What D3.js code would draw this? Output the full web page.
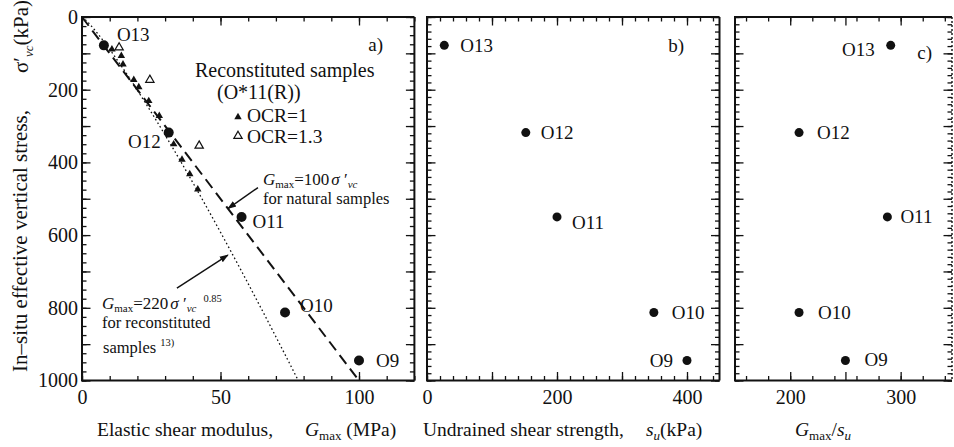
<!DOCTYPE html>
<html>
<head>
<meta charset="utf-8">
<script src="https://cdn.jsdelivr.net/npm/d3@7"></script>
</head>
<body style="margin:0;background:#fff">
<svg id="fig" width="954" height="447" style="display:block"></svg>
<script>
// ---- data ----------------------------------------------------------------
const samples      = ["O13", "O12", "O11", "O10", "O9"];
const sigmaVc      = [78, 318, 550, 813, 945];        // in-situ σ'vc (kPa)
const gmaxNatural  = [7.9, 31.3, 57.6, 73.3, 100];    // Gmax (MPa)
const suValues     = [26.6, 152, 200, 349, 400];      // su (kPa)
const gmaxOverSu   = [291, 208, 288, 208, 250];       // Gmax / su

// reconstituted samples O*11(R)
const ocr1Gmax   = [10.8, 14.2, 14.8, 18.7, 20.5, 24.1, 27.9, 33.1, 36.1, 38.9, 41.8];
const ocr1Sigma  = [89, 107, 130, 173, 193, 231, 272, 350, 392, 432, 474];
const ocr13Gmax  = [13.4, 24.5, 42.3];
const ocr13Sigma = [84, 173, 354];

// stated relationships: Gmax = 100 σ'vc ; Gmax = 220 σ'vc^0.85 (kPa)
const naturalCoef = 100;
const reconCoef = 220, reconExp = 0.85;

// tick labels
const yTickLabels = [0, 200, 400, 600, 800, 1000];
const xTicksA = [0, 50, 100];
const xTicksB = [0, 200, 400];
const xTicksC = [200, 300];

// ---- layout ----------------------------------------------------------------
const svg = d3.select("#fig");
const INK = "#111";
const FONT = "Liberation Serif";

const y  = d3.scaleLinear().domain([0, 1000]).range([17, 380.5]);
const xA = d3.scaleLinear().domain([0, 120]).range([82, 414.4]);
const xB = d3.scaleLinear().domain([0, 450]).range([427, 719.5]);
const xC = d3.scaleLinear().domain([150, 346.5]).range([735, 952]);

// every text node gets the serif face directly
function face(sel) { return sel.style("font-family", `"${FONT}"`).attr("fill", INK); }

// rich text helper: parts = [{t, it, sub, sup, fs, dx}]
function richText(g, x, y0, parts, size, opts = {}) {
  const t = face(g.append("text").attr("x", x).attr("y", y0).style("font-size", size + "px"));
  if (opts.anchor) t.attr("text-anchor", opts.anchor);
  if (opts.transform) t.attr("transform", opts.transform);
  let shift = 0;
  parts.forEach(p => {
    const s = p.sub ? size * (opts.subShift || 0.22) : p.sup ? -size * 0.4 : 0;
    const ts = face(t.append("tspan").attr("dy", s - shift).text(p.t));
    shift = s;
    if (p.it) ts.style("font-style", "italic");
    if (p.sub || p.sup) ts.style("font-size", (p.fs || size * 0.68) + "px");
    if (p.dx) ts.attr("dx", p.dx);
  });
  return t;
}
function plain(g, x, y0, str, size, anchor) {
  return face(g.append("text").attr("x", x).attr("y", y0).attr("text-anchor", anchor || "start")
    .style("font-size", size + "px").text(str));
}

// ticks on all four sides, all pointing inward
function panelAxes(x, yS, o) {
  const g = svg.append("g");
  const [x0, x1] = x.range(), [y0, y1] = yS.range();
  const put = (axisFn, scale, vals, size, tx, ty, fmt, pad) => {
    const a = axisFn(scale).tickValues(vals).tickSizeInner(size).tickSizeOuter(0)
      .tickPadding(pad || 3).tickFormat(fmt || (() => ""));
    const gg = g.append("g").attr("transform", `translate(${tx},${ty})`).call(a);
    gg.attr("font-size", 20).attr("font-family", FONT);
    gg.select(".domain").remove();
    gg.selectAll("line").attr("stroke", INK).attr("stroke-width", 1.3);
    face(gg.selectAll("text")).style("font-size", "20px");
    return gg;
  };
  put(d3.axisBottom, x, o.xMinor, -4.5, 0, y1);
  put(d3.axisBottom, x, o.xMajor, -8.5, 0, y1, d => (o.xLabels.includes(d) ? d : ""), 9);
  put(d3.axisTop, x, o.xMinor, -4.5, 0, y0);
  put(d3.axisTop, x, o.xMajor, -8.5, 0, y0);
  put(d3.axisLeft, yS, o.yMinor, -4.5, x0, 0);
  put(d3.axisLeft, yS, o.yMajor, -8.5, x0, 0,
      o.yLabels ? (d => (o.yLabels.includes(d) ? d : "")) : null, 4);
  put(d3.axisRight, yS, o.yMinor, -4.5, x1, 0);
  put(d3.axisRight, yS, o.yMajor, -8.5, x1, 0);
  g.append("path").attr("d", `M${x1},${y1}H${x0}V${y0}H${x1}`)
    .attr("fill", "none").attr("stroke", INK).attr("stroke-width", 2);
  g.append("line").attr("x1", x1).attr("x2", x1).attr("y1", y0).attr("y2", y1)
    .attr("stroke", INK).attr("stroke-width", o.rightDotted ? 1.4 : 2)
    .attr("stroke-dasharray", o.rightDotted ? "2,2" : null);
  return g;
}

const yMinorA = d3.range(0, 1001, 25);
const yMinorBC = d3.range(0, 1001, 20);
const yMajor = d3.range(0, 1001, 100);

panelAxes(xA, y, { xMinor: d3.range(0, 121, 10), xMajor: xTicksA, xLabels: xTicksA,
  yMinor: yMinorA, yMajor: yMajor, yLabels: yTickLabels });
panelAxes(xB, y, { xMinor: d3.range(0, 451, 20), xMajor: d3.range(0, 451, 100), xLabels: xTicksB,
  yMinor: yMinorBC, yMajor: yMajor });
panelAxes(xC, y, { xMinor: d3.range(160, 346, 20), xMajor: [200, 250, 300], xLabels: xTicksC,
  yMinor: yMinorBC, yMajor: yMajor, rightDotted: true });

// ---- panel a ---------------------------------------------------------------
const gA = svg.append("g");

// Gmax = 100 σ'vc  (MPa)
const natLine = [0, 1000].map(s => ({ g: naturalCoef * s / 1000, s }));
gA.append("path")
  .attr("d", d3.line().x(d => xA(d.g)).y(d => y(d.s))(natLine))
  .attr("fill", "none").attr("stroke", INK).attr("stroke-width", 2)
  .attr("stroke-dasharray", "11,6");

// Gmax = 220 σ'vc^0.85  (MPa)
const reconCurve = d3.range(0, 1001, 5).map(s => ({ g: reconCoef * Math.pow(s, reconExp) / 1000, s }));
gA.append("path")
  .attr("d", d3.line().x(d => xA(d.g)).y(d => y(d.s))(reconCurve))
  .attr("fill", "none").attr("stroke", INK).attr("stroke-width", 1.3)
  .attr("stroke-dasharray", "1.6,2.6");

// reconstituted samples
const triFilled = d3.symbol().type(d3.symbolTriangle).size(24);
const triOpen = d3.symbol().type(d3.symbolTriangle).size(30);
gA.selectAll(".ocr1").data(ocr1Gmax).join("path")
  .attr("transform", (d, i) => `translate(${xA(d)},${y(ocr1Sigma[i])})`)
  .attr("d", triFilled).attr("fill", INK);
gA.selectAll(".ocr13").data(ocr13Gmax).join("path")
  .attr("transform", (d, i) => `translate(${xA(d)},${y(ocr13Sigma[i])})`)
  .attr("d", triOpen).attr("fill", "#fff").attr("stroke", INK).attr("stroke-width", 1.2);

// natural samples
gA.selectAll(".nat").data(gmaxNatural).join("circle")
  .attr("cx", d => xA(d)).attr("cy", (d, i) => y(sigmaVc[i])).attr("r", 5).attr("fill", INK);

const labA = [
  { dx: 13, dy: -4, a: "start" },
  { dx: -8, dy: 15, a: "end" },
  { dx: 11, dy: 11, a: "start" },
  { dx: 15, dy: -1, a: "start" },
  { dx: 17, dy: 6, a: "start" }
];
samples.forEach((s, i) => {
  plain(gA, xA(gmaxNatural[i]) + labA[i].dx, y(sigmaVc[i]) + labA[i].dy, s, 19, labA[i].a);
});

plain(gA, 383, 51, "a)", 19, "end");
plain(gA, 195, 77, "Reconstituted samples", 20);
plain(gA, 217, 99, "(O*11(R))", 20);
gA.append("path").attr("transform", "translate(238,117)").attr("d", triFilled).attr("fill", INK);
plain(gA, 247, 122, "OCR=1", 19.5);
gA.append("path").attr("transform", "translate(238,136)").attr("d", triOpen)
  .attr("fill", "#fff").attr("stroke", INK).attr("stroke-width", 1.2);
plain(gA, 247, 143, "OCR=1.3", 19.5);

// arrow heads
svg.append("defs").append("marker").attr("id", "arrow")
  .attr("viewBox", "0 0 10 10").attr("refX", 9).attr("refY", 5)
  .attr("markerWidth", 9).attr("markerHeight", 9).attr("orient", "auto-start-reverse")
  .attr("markerUnits", "userSpaceOnUse")
  .append("path").attr("d", "M0,1.5L10,5L0,8.5Z").attr("fill", INK);

// annotation: natural-sample line
const tipNat = { x: xA(naturalCoef * 527 / 1000), y: y(527) };
gA.append("line").attr("x1", tipNat.x + 30).attr("y1", tipNat.y - 21)
  .attr("x2", tipNat.x).attr("y2", tipNat.y)
  .attr("stroke", INK).attr("stroke-width", 1.4).attr("marker-end", "url(#arrow)");
richText(gA, 263, 185, [
  { t: "G", it: true }, { t: "max", sub: true, fs: 11 }, { t: "=100" },
  { t: "σ", it: true, dx: 2 }, { t: " ′" }, { t: "vc", it: true, sub: true, fs: 11 }
], 17, { subShift: 0.18 });
plain(gA, 263, 204, "for natural samples", 16.5);

// annotation: reconstituted curve
const sTip = 655;
const tipRec = { x: xA(reconCoef * Math.pow(sTip, reconExp) / 1000) - 5, y: y(sTip) };
gA.append("line").attr("x1", tipRec.x - 51).attr("y1", tipRec.y + 33)
  .attr("x2", tipRec.x).attr("y2", tipRec.y)
  .attr("stroke", INK).attr("stroke-width", 1.4).attr("marker-end", "url(#arrow)");
richText(gA, 102, 309, [
  { t: "G", it: true }, { t: "max", sub: true, fs: 11 }, { t: "=220" },
  { t: "σ", it: true, dx: 2 }, { t: " ′" }, { t: "vc", it: true, sub: true, fs: 11 },
  { t: "0.85", sup: true, fs: 10.5, dx: 7 }
], 17, { subShift: 0.18 });
plain(gA, 102, 328, "for reconstituted", 16.5);
richText(gA, 103, 353, [{ t: "samples" }, { t: "13)", sup: true, fs: 10.5, dx: 4 }], 16.5);

// ---- panel b ---------------------------------------------------------------
const gB = svg.append("g");
gB.selectAll("circle").data(suValues).join("circle")
  .attr("cx", d => xB(d)).attr("cy", (d, i) => y(sigmaVc[i])).attr("r", 4.5).attr("fill", INK);
const labB = [
  { dx: 16, dy: 7, a: "start" },
  { dx: 15, dy: 6, a: "start" },
  { dx: 15, dy: 12, a: "start" },
  { dx: 18, dy: 6, a: "start" },
  { dx: -14, dy: 6, a: "end" }
];
samples.forEach((s, i) => {
  plain(gB, xB(suValues[i]) + labB[i].dx, y(sigmaVc[i]) + labB[i].dy, s, 19, labB[i].a);
});
plain(gB, 684, 52, "b)", 19, "end");

// ---- panel c ---------------------------------------------------------------
const gC = svg.append("g");
gC.selectAll("circle").data(gmaxOverSu).join("circle")
  .attr("cx", d => xC(d)).attr("cy", (d, i) => y(sigmaVc[i])).attr("r", 4.5).attr("fill", INK);
const labC = [
  { dx: -16, dy: 11, a: "end" },
  { dx: 18, dy: 6, a: "start" },
  { dx: 13, dy: 6, a: "start" },
  { dx: 19, dy: 6, a: "start" },
  { dx: 19, dy: 5, a: "start" }
];
samples.forEach((s, i) => {
  plain(gC, xC(gmaxOverSu[i]) + labC[i].dx, y(sigmaVc[i]) + labC[i].dy, s, 19, labC[i].a);
});
plain(gC, 932, 59, "c)", 19, "end");

// ---- axis titles -------------------------------------------------------------
const gT = svg.append("g");
plain(gT, 0, 0, "In–situ effective vertical stress,", 21).attr("transform", "translate(27,372) rotate(-90)");
richText(gT, 0, 0, [{ t: "σ" }, { t: "′" }, { t: "vc", it: true, sub: true, fs: 13 }, { t: "(kPa)" }], 21,
  { transform: "translate(28,73) rotate(-90)" });

plain(gT, 97, 436, "Elastic shear modulus,", 19.5);
richText(gT, 305, 436, [{ t: "G", it: true }, { t: "max", sub: true, fs: 13 }, { t: " (MPa)" }], 19.5);

plain(gT, 423, 436, "Undrained shear strength,", 19.5);
richText(gT, 646, 436, [{ t: "s", it: true }, { t: "u", it: true, sub: true, fs: 13 }, { t: "(kPa)" }], 19.5);

richText(gT, 795, 436, [{ t: "G", it: true }, { t: "max", sub: true, fs: 13 }, { t: "/" },
  { t: "s", it: true }, { t: "u", it: true, sub: true, fs: 13 }], 19.5);
</script>
</body>
</html>
